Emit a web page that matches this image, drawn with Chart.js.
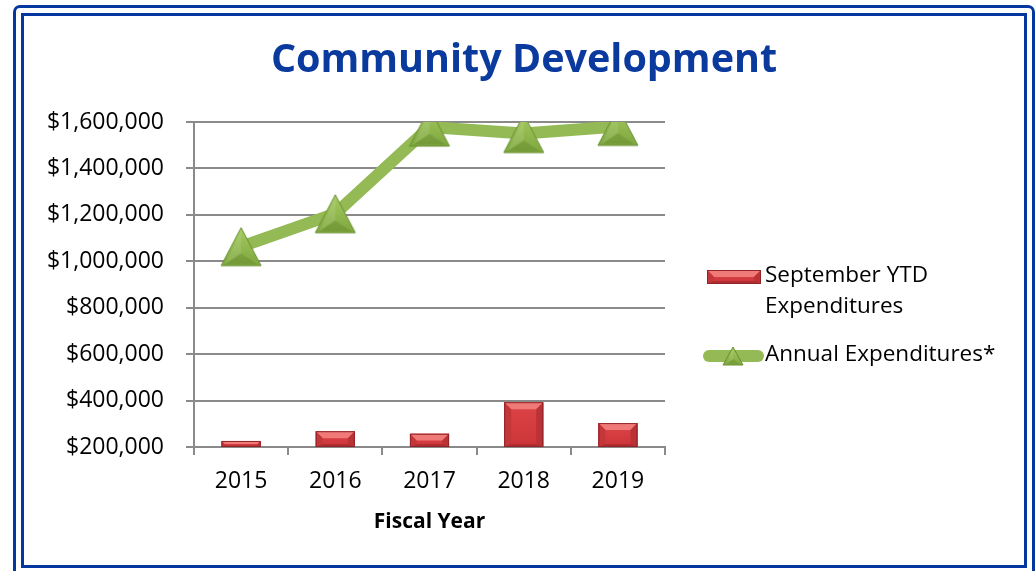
<!DOCTYPE html>
<html>
<head>
<meta charset="utf-8">
<title>Community Development</title>
<script src="https://cdn.jsdelivr.net/npm/chart.js@4"></script>
<style>
  html, body { margin: 0; padding: 0; background: #ffffff; }
  body { width: 1036px; height: 571px; position: relative; overflow: hidden; }
  .frame { position: absolute; box-sizing: border-box; border: 3px solid #0437a0; }
  #outer { left: 13px; top: 5px; width: 1022px; height: 590px; border-radius: 7px; }
  #inner { left: 21px; top: 13px; width: 1006px; height: 555px; }
  #wrap { position: absolute; left: 0; top: 0; width: 1036px; height: 571px; }
</style>
</head>
<body>
<div class="frame" id="outer"></div>
<div class="frame" id="inner"></div>
<div id="wrap"><canvas id="chart" width="1036" height="571"></canvas></div>
<script>
// Fiscal years and spending figures
const years = ['2015', '2016', '2017', '2018', '2019'];
const septemberYtd = [226000, 268000, 257000, 393000, 303000];
const annualTotals = [1063000, 1205000, 1578000, 1550000, 1581000];
const seriesNames = ['September YTD Expenditures', 'Annual Expenditures*'];

const FONT = '"Open Sans", "Liberation Sans", sans-serif';
const GRID = '#8a8a8a';
const LINE_GREEN = '#93ba55';

// Green triangle marker, centred in its own box so it sits on the data point
function makeTriangle(w, h) {
    const c = document.createElement('canvas');
    c.width = w + 4;
    c.height = h + 4;
    const g = c.getContext('2d');
    const x0 = 2, y0 = 2;
    const grad = g.createLinearGradient(0, y0, 0, y0 + h);
    grad.addColorStop(0, '#a6cc62');
    grad.addColorStop(1, '#7ea73e');
    g.beginPath();
    g.moveTo(x0 + w / 2, y0);
    g.lineTo(x0 + w, y0 + h);
    g.lineTo(x0, y0 + h);
    g.closePath();
    g.fillStyle = grad;
    g.fill();
    g.lineWidth = 1;
    g.strokeStyle = '#6a8f33';
    g.stroke();
    // inner facets for a bit of bevel
    const cx = x0 + w / 2, cy = y0 + h * 0.68;
    g.beginPath();
    g.moveTo(x0 + w / 2, y0 + 3);
    g.lineTo(cx, cy);
    g.lineTo(x0 + 4, y0 + h - 1.5);
    g.closePath();
    g.fillStyle = 'rgba(255,255,255,0.10)';
    g.fill();
    g.beginPath();
    g.moveTo(x0 + 4, y0 + h - 1.5);
    g.lineTo(cx, cy);
    g.lineTo(x0 + w - 4, y0 + h - 1.5);
    g.closePath();
    g.fillStyle = 'rgba(60,90,20,0.18)';
    g.fill();
    return c;
}

const bigTriangle = makeTriangle(40, 38);
const smallTriangle = makeTriangle(20, 18);

// Draws a bevelled red block
function drawBevelBar(ctx, l, t, r, b) {
    const h = b - t;
    const bv = Math.min(7, h / 2);
    const bb = Math.min(3, h / 4);
    const face = ctx.createLinearGradient(0, t, 0, b);
    face.addColorStop(0, '#de4447');
    face.addColorStop(1, '#cb3539');
    ctx.fillStyle = face;
    ctx.fillRect(l, t, r - l, h);
    ctx.beginPath();
    ctx.moveTo(l, t); ctx.lineTo(r, t); ctx.lineTo(r - bv, t + bv); ctx.lineTo(l + bv, t + bv);
    ctx.closePath();
    ctx.fillStyle = '#f07a78';
    ctx.fill();
    ctx.beginPath();
    ctx.moveTo(l, t); ctx.lineTo(l + bv, t + bv); ctx.lineTo(l + bv, b - bb); ctx.lineTo(l, b);
    ctx.closePath();
    ctx.fillStyle = '#c3373b';
    ctx.fill();
    ctx.beginPath();
    ctx.moveTo(r, t); ctx.lineTo(r - bv, t + bv); ctx.lineTo(r - bv, b - bb); ctx.lineTo(r, b);
    ctx.closePath();
    ctx.fillStyle = '#ba3236';
    ctx.fill();
    ctx.beginPath();
    ctx.moveTo(l, b); ctx.lineTo(l + bv, b - bb); ctx.lineTo(r - bv, b - bb); ctx.lineTo(r, b);
    ctx.closePath();
    ctx.fillStyle = '#b02c30';
    ctx.fill();
    ctx.lineWidth = 1;
    ctx.strokeStyle = '#922428';
    ctx.strokeRect(l + 0.5, t + 0.5, r - l - 1, h - 1);
}

// Re-paint each bar with the bevel once the bar dataset is drawn
const bevelBars = {
    id: 'bevelBars',
    afterDatasetDraw(chart, args) {
        if (args.index !== 0) return;
        const ctx = chart.ctx;
        const bottom = chart.scales.y.getPixelForValue(chart.scales.y.min);
        ctx.save();
        args.meta.data.forEach(bar => {
            const p = bar.getProps(['x', 'y', 'width'], true);
            drawBevelBar(ctx, p.x - p.width / 2, p.y, p.x + p.width / 2, bottom);
        });
        ctx.restore();
    }
};

function wrapText(ctx, text, maxWidth) {
    const words = text.split(' ');
    const lines = [];
    let cur = '';
    words.forEach(w => {
        const test = cur ? cur + ' ' + w : w;
        if (ctx.measureText(test).width > maxWidth && cur) {
            lines.push(cur);
            cur = w;
        } else {
            cur = test;
        }
    });
    if (cur) lines.push(cur);
    return lines;
}

// Title and right-hand legend
const headerAndLegend = {
    id: 'headerAndLegend',
    afterDraw(chart) {
        const ctx = chart.ctx;
        ctx.save();
        ctx.fillStyle = '#0a3a9e';
        ctx.font = 'bold 39.5px ' + FONT;
        ctx.textAlign = 'center';
        ctx.textBaseline = 'alphabetic';
        ctx.fillText('Community Development', 524, 72);

        const textX = 765;

        // bar series
        drawBevelBar(ctx, 707, 270, 761, 284);
        // line series
        ctx.beginPath();
        ctx.moveTo(709, 356);
        ctx.lineTo(758, 356);
        ctx.lineWidth = 12;
        ctx.lineCap = 'round';
        ctx.strokeStyle = LINE_GREEN;
        ctx.stroke();
        ctx.drawImage(smallTriangle, 733 - smallTriangle.width / 2, 356 - smallTriangle.height / 2);

        ctx.font = '22.5px ' + FONT;
        ctx.fillStyle = '#000000';
        ctx.textAlign = 'left';
        ctx.textBaseline = 'middle';
        const lines = wrapText(ctx, chart.data.datasets[0].label, 250);
        lines.forEach((ln, i) => ctx.fillText(ln, textX, 276 + i * 31));
        ctx.fillText(chart.data.datasets[1].label, textX, 355);
        ctx.restore();
    }
};

new Chart(document.getElementById('chart'), {
    type: 'bar',
    data: {
        labels: years,
        datasets: [
            {
                label: seriesNames[0],
                data: septemberYtd,
                backgroundColor: '#d23b3e',
                borderWidth: 0,
                categoryPercentage: 1,
                barPercentage: 0.415,
                order: 2
            },
            {
                type: 'line',
                label: seriesNames[1],
                data: annualTotals,
                borderColor: LINE_GREEN,
                borderWidth: 12,
                borderJoinStyle: 'round',
                borderCapStyle: 'round',
                tension: 0,
                pointStyle: bigTriangle,
                pointRadius: 21,
                order: 1
            }
        ]
    },
    options: {
        responsive: false,
        animation: false,
        layout: { padding: { left: 0, top: 122, right: 371, bottom: 0 } },
        plugins: {
            legend: { display: false },
            title: { display: false },
            tooltip: { enabled: false }
        },
        scales: {
            x: {
                grid: {
                    offset: true,
                    drawOnChartArea: false,
                    drawTicks: true,
                    tickLength: 8,
                    color: GRID,
                    lineWidth: 2
                },
                border: { display: true, color: GRID, width: 2 },
                ticks: {
                    color: '#000000',
                    padding: 13,
                    font: { family: FONT, size: 23 }
                },
                title: {
                    display: true,
                    text: 'Fiscal Year',
                    color: '#000000',
                    font: { family: FONT, size: 21, weight: 'bold' },
                    padding: { top: 0, bottom: 36 }
                },
                afterFit(scale) { scale.height = 124; }
            },
            y: {
                min: 200000,
                max: 1600000,
                grid: {
                    color: GRID,
                    lineWidth: 2,
                    tickLength: 8
                },
                border: { display: true, color: GRID, width: 2 },
                ticks: {
                    stepSize: 200000,
                    color: '#000000',
                    padding: 22,
                    font: { family: FONT, size: 23 },
                    callback: v => '$' + v.toLocaleString('en-US')
                },
                afterFit(scale) { scale.width = 194; }
            }
        }
    },
    plugins: [bevelBars, headerAndLegend]
});
</script>
</body>
</html>
